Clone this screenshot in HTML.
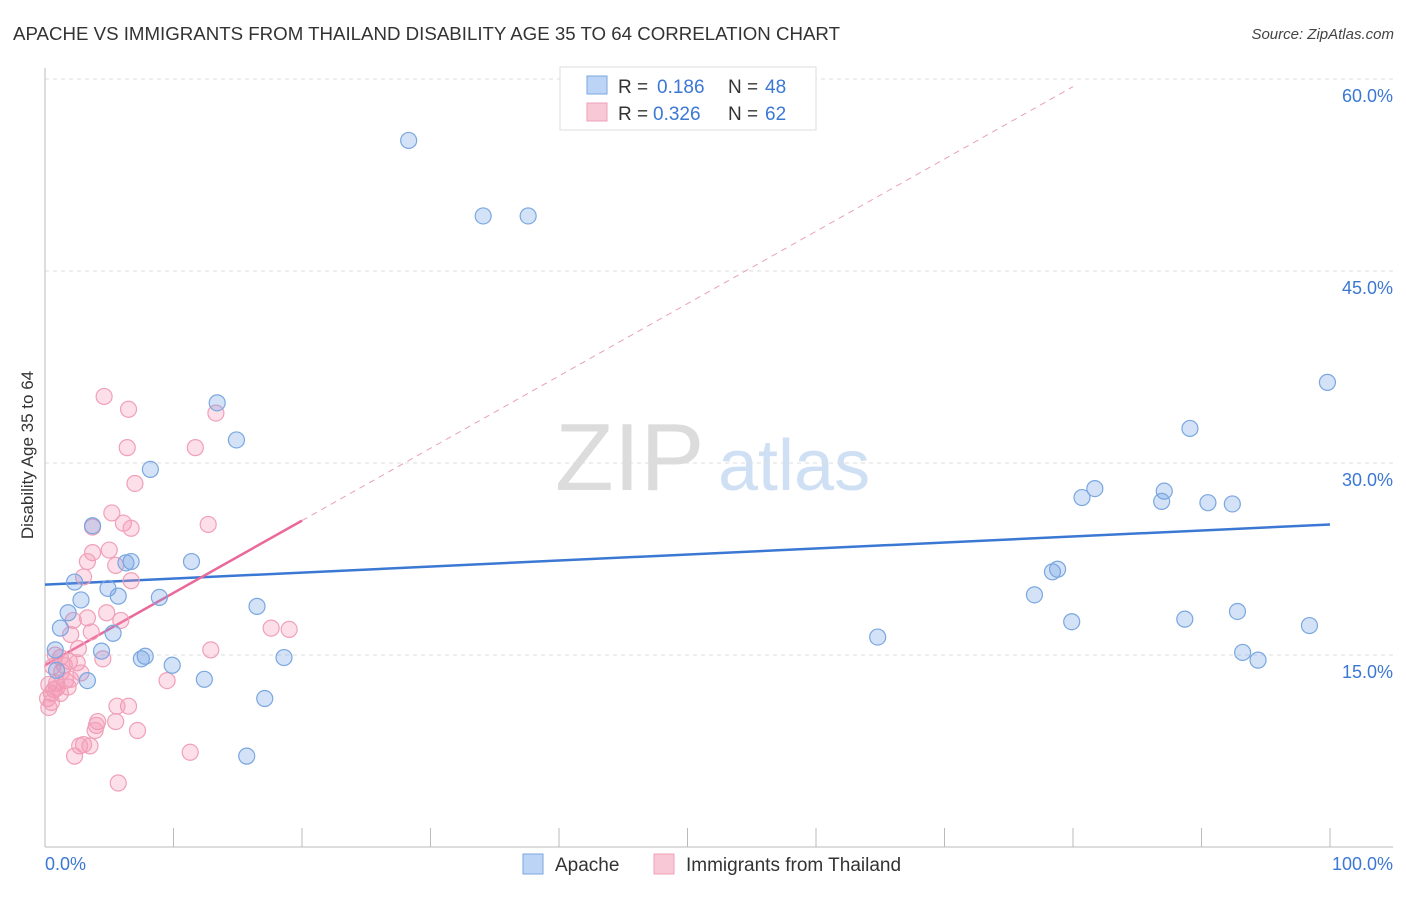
<!DOCTYPE html>
<html><head><meta charset="utf-8"><style>
body{margin:0;background:#fff;font-family:"Liberation Sans",sans-serif;}
svg text{font-family:"Liberation Sans",sans-serif;}
</style></head><body>
<svg id="chart" width="1406" height="892" xmlns="http://www.w3.org/2000/svg">
<text x="13" y="40" font-size="18.5" fill="#333" textLength="827" lengthAdjust="spacingAndGlyphs">APACHE VS IMMIGRANTS FROM THAILAND DISABILITY AGE 35 TO 64 CORRELATION CHART</text>
<text x="1394" y="39" font-size="15" fill="#444" text-anchor="end" font-style="italic">Source: ZipAtlas.com</text>
<g>
<text x="555" y="490" font-size="96" fill="#dcdcdc" font-family="Liberation Serif">ZIP</text>
<text x="718" y="490" font-size="72" fill="#cfe0f4">atlas</text>
</g>
<g id="grid"></g>
<g id="axes"></g>
<g id="trends"></g>
<g id="points"></g>
<text transform="translate(33,455) rotate(-90)" font-size="17" fill="#333" text-anchor="middle">Disability Age 35 to 64</text>
<g>
<rect x="560" y="67" width="256" height="63" fill="#fff" stroke="#ddd"/>
<rect x="587" y="76" width="20" height="18" fill="#bcd4f5" stroke="#7aa7e0"/>
<rect x="587" y="103" width="20" height="18" fill="#f9c8d6" stroke="#f0a0b8"/>
<text x="618" y="93" font-size="19" fill="#333">R = </text>
<text x="657" y="93" font-size="19" fill="#3a78d4">0.186</text>
<text x="728" y="93" font-size="19" fill="#333">N = </text>
<text x="765" y="93" font-size="19" fill="#3a78d4">48</text>
<text x="618" y="120" font-size="19" fill="#333">R = </text>
<text x="653" y="120" font-size="19" fill="#3a78d4">0.326</text>
<text x="728" y="120" font-size="19" fill="#333">N = </text>
<text x="765" y="120" font-size="19" fill="#3a78d4">62</text>
</g>
<g>
<rect x="523" y="854" width="20" height="20" fill="#bcd4f5" stroke="#7aa7e0"/>
<text x="555" y="871" font-size="19" fill="#333">Apache</text>
<rect x="654" y="854" width="20" height="20" fill="#f9c8d6" stroke="#f0a0b8"/>
<text x="686" y="871" font-size="19" fill="#333">Immigrants from Thailand</text>
</g>
</svg>
<script>
const yTicks=[15,30,45,60];
const yTickLabels=["15.0%","30.0%","45.0%","60.0%"];
const xTickLabels=["0.0%","100.0%"];
const apacheX=[28.3,34.1,37.6,99.8,89.1,81.7,80.7,87.1,86.9,90.5,92.4,78.4,78.8,77.0,79.9,88.7,92.8,98.4,93.2,94.4,64.8,13.4,14.9,8.2,3.7,6.7,6.3,11.4,2.3,4.9,5.7,8.9,2.8,1.8,16.5,1.2,5.3,0.8,4.4,7.8,7.5,9.9,3.3,12.4,18.6,17.1,15.7,0.9];
const apacheY=[55.2,49.3,49.3,36.3,32.7,28.0,27.3,27.8,27.0,26.9,26.8,21.5,21.7,19.7,17.6,17.8,18.4,17.3,15.2,14.6,16.4,34.7,31.8,29.5,25.1,22.3,22.2,22.3,20.7,20.2,19.6,19.5,19.3,18.3,18.8,17.1,16.7,15.4,15.3,14.9,14.7,14.2,13.0,13.1,14.8,11.6,7.1,13.8];
const thaiX=[4.6,6.5,13.3,6.4,11.7,7.0,5.2,6.1,6.7,12.7,3.7,5.0,3.7,3.3,5.5,3.0,6.7,4.8,5.9,2.2,3.3,3.6,2.0,17.6,19.0,2.6,12.9,0.8,1.2,4.5,1.9,2.5,0.6,1.3,2.8,2.0,1.6,9.5,0.9,0.3,1.8,0.7,0.5,0.2,0.5,0.3,6.5,5.6,4.1,4.0,5.5,3.9,7.2,3.0,3.5,2.7,11.3,2.3,5.7,0.9,1.2,1.5];
const thaiY=[35.2,34.2,33.9,31.2,31.2,28.4,26.1,25.3,24.9,25.2,25.0,23.2,23.0,22.3,22.0,21.1,20.8,18.3,17.7,17.7,17.9,16.8,16.6,17.1,17.0,15.5,15.4,15.0,14.8,14.7,14.5,14.4,14.1,13.7,13.6,13.1,13.0,13.0,12.8,12.7,12.5,12.3,12.0,11.6,11.3,10.9,11.0,11.0,9.8,9.5,9.8,9.1,9.1,8.0,7.9,7.9,7.4,7.1,5.0,12.4,12.0,14.2];
const apacheTrend=[20.5,25.2];
const thaiTrend=[14.2,25.5];
const thaiTrendSolidEnd=20;

const NS="http://www.w3.org/2000/svg";
const X=v=>45+v*12.85, Y=v=>847-v*12.8;
function mk(tag,attrs,parent){const e=document.createElementNS(NS,tag);for(const k in attrs)e.setAttribute(k,attrs[k]);document.getElementById(parent).appendChild(e);return e;}
yTicks.forEach((t,i)=>{
 const g=mk('line',{x1:45,x2:1393,y1:Y(t),y2:Y(t),stroke:'#ddd','stroke-dasharray':'4,4'},'grid');
 
 
 const l=mk('text',{x:1393,y:Y(t)+23,'font-size':18,fill:'#3a78d4','text-anchor':'end'},'grid');l.textContent=yTickLabels[i];
 
 
});
mk('line',{x1:45,x2:45,y1:68,y2:847,stroke:'#bbb'},'axes');
mk('line',{x1:45,x2:1393,y1:847,y2:847,stroke:'#bbb'},'axes');
for(let i=0;i<=10;i++){const t=mk('line',{x1:X(i*10),x2:X(i*10),y1:828,y2:847,stroke:'#bbb'},'axes');
 
 }
const xl0=mk('text',{x:45,y:870,'font-size':18,fill:'#3a78d4'},'axes');xl0.textContent=xTickLabels[0];


const xl1=mk('text',{x:1393,y:870,'font-size':18,fill:'#3a78d4','text-anchor':'end'},'axes');xl1.textContent=xTickLabels[1];


const slope=(thaiTrend[1]-thaiTrend[0])/thaiTrendSolidEnd;
const xEnd=Math.min(80,(60-thaiTrend[0])/slope);
const td=mk('line',{x1:X(thaiTrendSolidEnd),y1:Y(thaiTrend[1]),x2:X(xEnd),y2:Y(thaiTrend[0]+slope*xEnd),stroke:'#e8a0b8','stroke-width':1,'stroke-dasharray':'6,5'},'trends');


const ta=mk('line',{x1:X(0),y1:Y(apacheTrend[0]),x2:X(100),y2:Y(apacheTrend[1]),stroke:'#3a78d4','stroke-width':2.5},'trends');


const tt=mk('line',{x1:X(0),y1:Y(thaiTrend[0]),x2:X(thaiTrendSolidEnd),y2:Y(thaiTrend[1]),stroke:'#e8699a','stroke-width':2.5},'trends');


thaiX.forEach((v,i)=>{const c=mk('circle',{cx:X(v),cy:Y(thaiY[i]),r:8,fill:'rgba(244,150,180,0.3)',stroke:'#f0a0b8','stroke-width':1.2},'points');
 
 });
apacheX.forEach((v,i)=>{const c=mk('circle',{cx:X(v),cy:Y(apacheY[i]),r:8,fill:'rgba(110,160,230,0.3)',stroke:'#7aa7e0','stroke-width':1.2},'points');
 
 });
</script>
</body></html>
